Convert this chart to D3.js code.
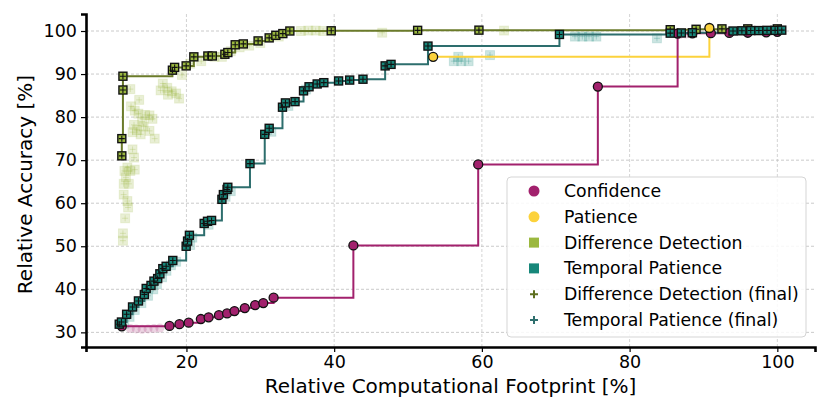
<!DOCTYPE html>
<html>
<head>
<meta charset="utf-8">
<script src="https://cdn.jsdelivr.net/npm/d3@7"></script>
<style>
  body { margin: 0; background: #fff; }
  text { font-family: "DejaVu Sans", sans-serif; }
</style>
</head>
<body>
<div id="container"></div>
<script>
/* DATA */
const confX = [11.25, 17.7, 19.05, 20.3, 21.95, 23.0, 24.4, 25.5, 26.5, 27.9, 29.3, 30.4, 31.8, 42.6, 59.5, 75.7, 86.5, 88.5, 91.0, 93.5, 96.0, 98.5, 100.0]
const confY = [31.4, 31.5, 31.9, 32.25, 33.1, 33.5, 34.0, 34.4, 34.95, 35.65, 36.35, 36.8, 38.05, 50.2, 69.0, 87.1, 99.4, 99.45, 99.5, 99.55, 99.6, 99.7, 99.8]
const confAllX = [12.4, 13.2, 14.0, 14.8, 15.6, 16.4, 86.8, 87.6]
const confAllY = [30.9, 30.8, 30.7, 30.8, 30.9, 31.0, 99.2, 99.3]

const patX = [53.4, 90.8]
const patY = [94.0, 100.7]

const ddX = [11.25, 11.25, 11.4, 11.4, 18.1, 18.4, 19.96, 21.0, 22.9, 23.5, 25.2, 25.6, 26.6, 27.7, 29.7, 31.2, 32.1, 33.05, 34.0, 39.6, 51.3, 59.6, 85.5, 89.0, 92.5, 96.0, 100.0]
const ddY = [71.0, 75.0, 86.3, 89.5, 90.9, 91.55, 91.9, 94.0, 94.2, 94.2, 94.6, 95.0, 96.8, 97.0, 97.7, 98.4, 99.0, 99.4, 100.0, 100.05, 100.15, 100.2, 100.3, 100.4, 100.5, 100.5, 100.5]
const ddAllX = [19.4, 16.8, 17.4, 18.0, 18.6, 17.5, 19.0, 16.5,
  12.4, 13.6, 12.5, 13.0, 13.5, 14.4, 15.0, 15.4, 14.0, 12.9, 13.3, 13.8, 15.0, 15.7, 12.7, 14.2,
  12.7, 12.9, 12.0, 11.6, 12.4, 13.0, 11.8, 11.5, 12.2, 11.5, 12.0, 12.1, 11.7, 11.4, 11.4,
  20.5, 22.0, 23.8, 24.8, 26.0, 27.2, 28.5, 30.0, 32.5,
  35.5, 36.5, 37.5, 38.5, 46.5, 63.0]
const ddAllY = [89.8, 87.8, 86.8, 86.0, 85.5, 85.2, 84.3, 86.2,
  86.5, 84.0, 82.5, 81.5, 80.8, 80.5, 80.4, 79.6, 79.0, 78.2, 77.0, 76.0, 76.8, 75.0, 76.5, 77.8,
  72.5, 70.6, 68.3, 67.5, 67.5, 67.8, 66.0, 64.5, 64.5, 62.0, 60.5, 59.0, 56.5, 53.0, 51.3,
  92.4, 93.0, 94.0, 94.0, 95.3, 96.2, 96.6, 97.2, 98.7,
  100.0, 100.1, 100.1, 100.0, 99.6, 100.1]

const tpX = [10.9, 11.2, 11.9, 12.7, 13.5, 14.3, 14.55, 15.2, 15.6, 16.1, 16.4, 16.8, 17.25, 18.15, 19.96, 20.15, 20.4, 22.4, 22.85, 23.4, 24.8, 25.0, 25.5, 25.6, 28.6, 30.6, 31.2, 33.0, 33.4, 34.7, 35.85, 36.6, 37.7, 38.6, 40.6, 42.1, 43.9, 46.9, 47.7, 52.7, 70.5, 85.5, 87.0, 88.5, 94.0, 95.2, 96.4, 97.5, 98.6, 99.7, 100.6]
const tpY = [31.9, 32.4, 34.2, 35.9, 37.3, 38.8, 40.2, 40.9, 41.9, 42.5, 43.6, 44.8, 45.35, 46.7, 50.0, 51.2, 52.55, 55.3, 55.8, 56.0, 60.9, 62.0, 63.2, 63.7, 69.2, 76.0, 77.4, 82.3, 83.3, 83.6, 86.1, 87.05, 87.7, 88.0, 88.4, 88.6, 88.8, 91.9, 92.25, 96.5, 99.2, 99.5, 99.55, 99.6, 100.0, 100.05, 100.1, 100.1, 100.15, 100.15, 100.2]
const tpAllX = [11.6, 12.3, 13.0, 13.9, 14.8, 15.5, 16.0, 16.7, 17.3, 17.9, 18.6, 20.5, 20.8, 23.0, 25.3, 26.0, 31.5, 33.8, 36.2,
  56.8, 56.2, 57.2, 58.2, 61.1, 72.6, 73.6, 74.5, 75.5, 83.7]
const tpAllY = [32.0, 33.6, 35.2, 36.8, 38.5, 40.0, 41.2, 42.8, 44.3, 45.6, 46.4, 50.3, 52.0, 55.0, 61.5, 62.8, 76.6, 82.6, 86.4,
  94.0, 93.0, 93.0, 93.0, 94.4, 98.7, 98.7, 98.7, 98.7, 98.3]

const xTicks = [20, 40, 60, 80, 100]
const yTicks = [30, 40, 50, 60, 70, 80, 90, 100]

const legendLabels = ["Confidence", "Patience", "Difference Detection", "Temporal Patience",
  "Difference Detection (final)", "Temporal Patience (final)"]

/* CONSTANTS */
const width = 830, height = 415
const margin = { top: 14, right: 15, bottom: 68, left: 86 }

const col = {
  conf: "#a2216d", pat: "#fcd23c",
  dd: "#9bb83f", ddLine: "#6b7b2a", ddFinal: "#5d6f1f",
  tp: "#17877a", tpLine: "#2d6e6d", tpFinal: "#2f6f6e"
}

const svg = d3.select("#container").append("svg")
  .attr("width", width).attr("height", height)

const x = d3.scaleLinear().domain([6.4, 105.1]).range([margin.left, width - margin.right])
const y = d3.scaleLinear().domain([26.6, 103.95]).range([height - margin.bottom, margin.top])

// grid
svg.append("g").selectAll("line").data(xTicks).join("line")
  .attr("x1", d => x(d)).attr("x2", d => x(d))
  .attr("y1", margin.top).attr("y2", height - margin.bottom)
  .attr("stroke", "#c8c8c8").attr("stroke-width", 0.8).attr("stroke-dasharray", "3,2")
svg.append("g").selectAll("line").data(yTicks).join("line")
  .attr("x1", margin.left).attr("x2", width - margin.right)
  .attr("y1", d => y(d)).attr("y2", d => y(d))
  .attr("stroke", "#bdbdbd").attr("stroke-width", 0.8).attr("stroke-dasharray", "3,2")

const zip = (a, b) => a.map((v, i) => [v, b[i]])

// faded (all configurations)
const faded = svg.append("g")
faded.selectAll("circle").data(zip(confAllX, confAllY)).join("circle")
  .attr("cx", d => x(d[0])).attr("cy", d => y(d[1])).attr("r", 4.5)
  .attr("fill", col.conf).attr("fill-opacity", 0.2)

function fadedSquares(data, c) {
  const g = faded.append("g")
  g.selectAll("rect").data(data).join("rect")
    .attr("x", d => x(d[0]) - 4.5).attr("y", d => y(d[1]) - 4.5)
    .attr("width", 9).attr("height", 9)
    .attr("fill", c).attr("fill-opacity", 0.22)
    .attr("stroke", c).attr("stroke-opacity", 0.15)
  g.selectAll("path").data(data).join("path")
    .attr("d", d => `M${x(d[0]) - 3},${y(d[1])}h6M${x(d[0])},${y(d[1]) - 3}v6`)
    .attr("stroke", c).attr("stroke-opacity", 0.25).attr("stroke-width", 1)
}
fadedSquares(zip(ddAllX, ddAllY), col.dd)
fadedSquares(zip(tpAllX, tpAllY), col.tp)

// pareto step lines
const stepLine = d3.line().x(d => x(d[0])).y(d => y(d[1])).curve(d3.curveStepAfter)
const lines = [
  [zip(patX, patY), col.pat],
  [zip(confX, confY), col.conf],
  [zip(tpX, tpY), col.tpLine],
  [zip(ddX, ddY), col.ddLine]
]
svg.append("g").selectAll("path").data(lines).join("path")
  .attr("d", d => stepLine(d[0]))
  .attr("fill", "none").attr("stroke", d => d[1]).attr("stroke-width", 2)

// pareto markers: circles first, squares on top
svg.append("g").selectAll("circle").data(zip(confX, confY)).join("circle")
  .attr("cx", d => x(d[0])).attr("cy", d => y(d[1])).attr("r", 4.5)
  .attr("fill", col.conf).attr("stroke", "#111").attr("stroke-width", 1.3)
svg.append("g").selectAll("circle").data(zip(patX, patY)).join("circle")
  .attr("cx", d => x(d[0])).attr("cy", d => y(d[1])).attr("r", 4.5)
  .attr("fill", col.pat).attr("stroke", "#111").attr("stroke-width", 1.3)

function paretoSquares(data, c) {
  const g = svg.append("g")
  g.selectAll("rect").data(data).join("rect")
    .attr("x", d => x(d[0]) - 4).attr("y", d => y(d[1]) - 4)
    .attr("width", 8).attr("height", 8)
    .attr("fill", c).attr("stroke", "#111").attr("stroke-width", 1.4)
  g.selectAll("path").data(data).join("path")
    .attr("d", d => `M${x(d[0]) - 3},${y(d[1])}h6M${x(d[0])},${y(d[1]) - 3}v6`)
    .attr("stroke", "#111").attr("stroke-width", 1.1)
}
paretoSquares(zip(ddX, ddY), col.dd)
paretoSquares(zip(tpX, tpY), col.tp)

// axes
const xAxis = svg.append("g")
  .attr("transform", `translate(0,${height - margin.bottom})`)
  .call(d3.axisBottom(x).tickValues(xTicks).tickSize(5).tickPadding(4))
const yAxis = svg.append("g")
  .attr("transform", `translate(${margin.left},0)`)
  .call(d3.axisLeft(y).tickValues(yTicks).tickSize(5).tickPadding(4))
;[xAxis, yAxis].forEach(a => {
  a.select(".domain").attr("stroke", "#000").attr("stroke-width", 2.6)
  a.selectAll(".tick line").attr("stroke", "#000").attr("stroke-width", 1.2)
  a.selectAll(".tick text").attr("font-size", 17.5).attr("fill", "#000")
    .attr("font-family", "DejaVu Sans")
})

svg.append("text")
  .attr("x", (margin.left + width - margin.right) / 2).attr("y", 393)
  .attr("text-anchor", "middle").attr("font-size", 20)
  .text("Relative Computational Footprint [%]")
svg.append("text")
  .attr("transform", `translate(32,${(margin.top + height - margin.bottom) / 2 + 4}) rotate(-90)`)
  .attr("text-anchor", "middle").attr("font-size", 20)
  .text("Relative Accuracy [%]")

// legend
const lg = svg.append("g").attr("transform", "translate(507,177)")
lg.append("rect").attr("width", 299).attr("height", 160).attr("rx", 4)
  .attr("fill", "#fff").attr("fill-opacity", 0.85)
  .attr("stroke", "#d5d5d5").attr("stroke-width", 1)
const rowY = i => 14 + i * 25.8
const mx = 27
lg.append("circle").attr("cx", mx).attr("cy", rowY(0)).attr("r", 5.5).attr("fill", col.conf)
lg.append("circle").attr("cx", mx).attr("cy", rowY(1)).attr("r", 5.5).attr("fill", col.pat)
lg.append("rect").attr("x", mx - 5).attr("y", rowY(2) - 5).attr("width", 10).attr("height", 10).attr("fill", col.dd)
lg.append("rect").attr("x", mx - 5).attr("y", rowY(3) - 5).attr("width", 10).attr("height", 10).attr("fill", col.tp)
lg.append("path").attr("d", `M${mx - 4},${rowY(4)}h8M${mx},${rowY(4) - 4}v8`)
  .attr("stroke", col.ddFinal).attr("stroke-width", 2)
lg.append("path").attr("d", `M${mx - 4},${rowY(5)}h8M${mx},${rowY(5) - 4}v8`)
  .attr("stroke", col.tpFinal).attr("stroke-width", 2)
lg.selectAll("text.lab").data(legendLabels).join("text")
  .attr("class", "lab")
  .attr("x", 57).attr("y", (d, i) => rowY(i) + 6)
  .attr("font-size", 17.3).attr("fill", "#000")
  .text(d => d)
</script>
</body>
</html>
